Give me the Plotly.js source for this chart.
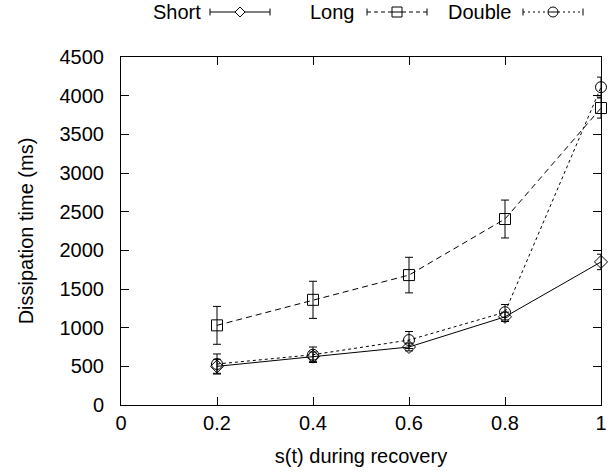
<!DOCTYPE html>
<html>
<head>
<meta charset="utf-8">
<script src="https://cdn.plot.ly/plotly-3.0.1.min.js"></script>
<style>html,body{margin:0;padding:0;background:#fff;}#chart{width:612px;height:472px;}</style>
</head>
<body>
<div id="chart"></div>
<script>
var xVals = [0.2, 0.4, 0.6, 0.8, 1.0];
var shortVals = [500, 625, 750, 1140, 1850];
var shortErr = [90, 60, 50, 60, 100];
var longVals = [1030, 1360, 1680, 2405, 3840];
var longErr = [245, 240, 230, 245, 130];
var doubleVals = [530, 650, 840, 1200, 4110];
var doubleErr = [130, 100, 110, 100, 130];
var seriesNames = ['Short', 'Long', 'Double'];
var xTickVals = [0, 0.2, 0.4, 0.6, 0.8, 1];
var xTickText = ['0', '0.2', '0.4', '0.6', '0.8', '1'];
var yTickVals = [0, 500, 1000, 1500, 2000, 2500, 3000, 3500, 4000, 4500];

var FONT = 'Liberation Sans, Arial, Helvetica, sans-serif';
var FS = 20;

function mk(name, y, err, dash, symbol, size) {
  return {
    x: xVals, y: y, name: name, type: 'scatter', mode: 'lines+markers',
    cliponaxis: false,
    line: {color: '#000', width: 1, dash: dash},
    marker: {symbol: symbol, size: size, color: 'rgba(255,255,255,0)', line: {color: '#000', width: 1}},
    error_y: {type: 'data', array: err, visible: true, color: '#000', thickness: 1, width: 4},
    showlegend: false
  };
}
var traces = [
  mk(seriesNames[0], shortVals, shortErr, 'solid', 'diamond', 10),
  mk(seriesNames[1], longVals, longErr, '6px,4px', 'square', 11),
  mk(seriesNames[2], doubleVals, doubleErr, '3px,3px', 'circle', 11)
];

var shapes = [];
var annotations = [];
var legItems = [
  {name: seriesNames[0], x0: 210, x1: 270, dash: 'solid', sym: 'diamond', tx: 203},
  {name: seriesNames[1], x0: 367, x1: 427, dash: '4px,3px', sym: 'square', tx: 357},
  {name: seriesNames[2], x0: 523, x1: 583, dash: '2px,3px', sym: 'circle', tx: 513}
];
var L = 121, R = 601, T = 57, B = 405;
function px(xp) { return (xp - L) / (R - L); }
function py(yp) { return (B - yp) / (B - T); }
legItems.forEach(function (it) {
  var yc = 12;
  var cx = (it.x0 + it.x1) / 2;
  var half = 5;
  shapes.push({type: 'line', xref: 'paper', yref: 'paper', x0: px(it.x0), x1: px(cx - half), y0: py(yc), y1: py(yc), line: {color: '#000', width: 1, dash: it.dash}});
  shapes.push({type: 'line', xref: 'paper', yref: 'paper', x0: px(cx + half), x1: px(it.x1), y0: py(yc), y1: py(yc), line: {color: '#000', width: 1, dash: it.dash}});
  shapes.push({type: 'line', xref: 'paper', yref: 'paper', x0: px(it.x0), x1: px(it.x0), y0: py(yc - 3.5), y1: py(yc + 3.5), line: {color: '#000', width: 1}});
  shapes.push({type: 'line', xref: 'paper', yref: 'paper', x0: px(it.x1), x1: px(it.x1), y0: py(yc - 3.5), y1: py(yc + 3.5), line: {color: '#000', width: 1}});
  if (it.sym === 'diamond') {
    var p = 'M' + px(cx - 5) + ',' + py(yc) + ' L' + px(cx) + ',' + py(yc - 5) + ' L' + px(cx + 5) + ',' + py(yc) + ' L' + px(cx) + ',' + py(yc + 5) + ' Z';
    shapes.push({type: 'path', xref: 'paper', yref: 'paper', path: p, line: {color: '#000', width: 1}});
  } else if (it.sym === 'square') {
    shapes.push({type: 'rect', xref: 'paper', yref: 'paper', x0: px(cx - 5), x1: px(cx + 5), y0: py(yc - 5), y1: py(yc + 5), line: {color: '#000', width: 1}});
    shapes.push({type: 'line', xref: 'paper', yref: 'paper', x0: px(cx - 5), x1: px(cx + 5), y0: py(yc), y1: py(yc), line: {color: '#000', width: 1}});
  } else {
    shapes.push({type: 'circle', xref: 'paper', yref: 'paper', x0: px(cx - 5), x1: px(cx + 5), y0: py(yc - 5), y1: py(yc + 5), line: {color: '#000', width: 1}});
    shapes.push({type: 'line', xref: 'paper', yref: 'paper', x0: px(cx - 5), x1: px(cx + 5), y0: py(yc), y1: py(yc), line: {color: '#000', width: 1}});
  }
  annotations.push({xref: 'paper', yref: 'paper', x: px(it.tx), y: py(yc), xanchor: 'right', yanchor: 'middle', text: it.name, showarrow: false, font: {family: FONT, size: FS, color: '#000'}});
});

var layout = {
  width: 612, height: 472,
  margin: {l: 121, r: 11, t: 57, b: 67, pad: 0},
  paper_bgcolor: '#fff', plot_bgcolor: '#fff',
  font: {family: FONT, size: FS, color: '#000'},
  showlegend: false,
  xaxis: {
    range: [0, 1], tickvals: xTickVals, ticktext: xTickText,
    showline: true, linecolor: '#000', linewidth: 1, mirror: 'ticks',
    ticks: 'inside', ticklen: 8, tickcolor: '#000', showgrid: false, zeroline: false,
    ticklabelstandoff: 0,
    title: {text: 's(t) during recovery', font: {family: FONT, size: FS}, standoff: 15},
    tickfont: {family: FONT, size: FS}
  },
  yaxis: {
    range: [0, 4500], tickvals: yTickVals,
    showline: true, linecolor: '#000', linewidth: 1, mirror: 'ticks',
    ticks: 'inside', ticklen: 8, tickcolor: '#000', showgrid: false, zeroline: false,
    ticklabelstandoff: 12,
    title: {text: 'Dissipation time (ms)', font: {family: FONT, size: FS}, standoff: 20},
    tickfont: {family: FONT, size: FS}
  },
  shapes: shapes,
  annotations: annotations
};
Plotly.newPlot('chart', traces, layout, {staticPlot: true, displayModeBar: false});
</script>
</body>
</html>
